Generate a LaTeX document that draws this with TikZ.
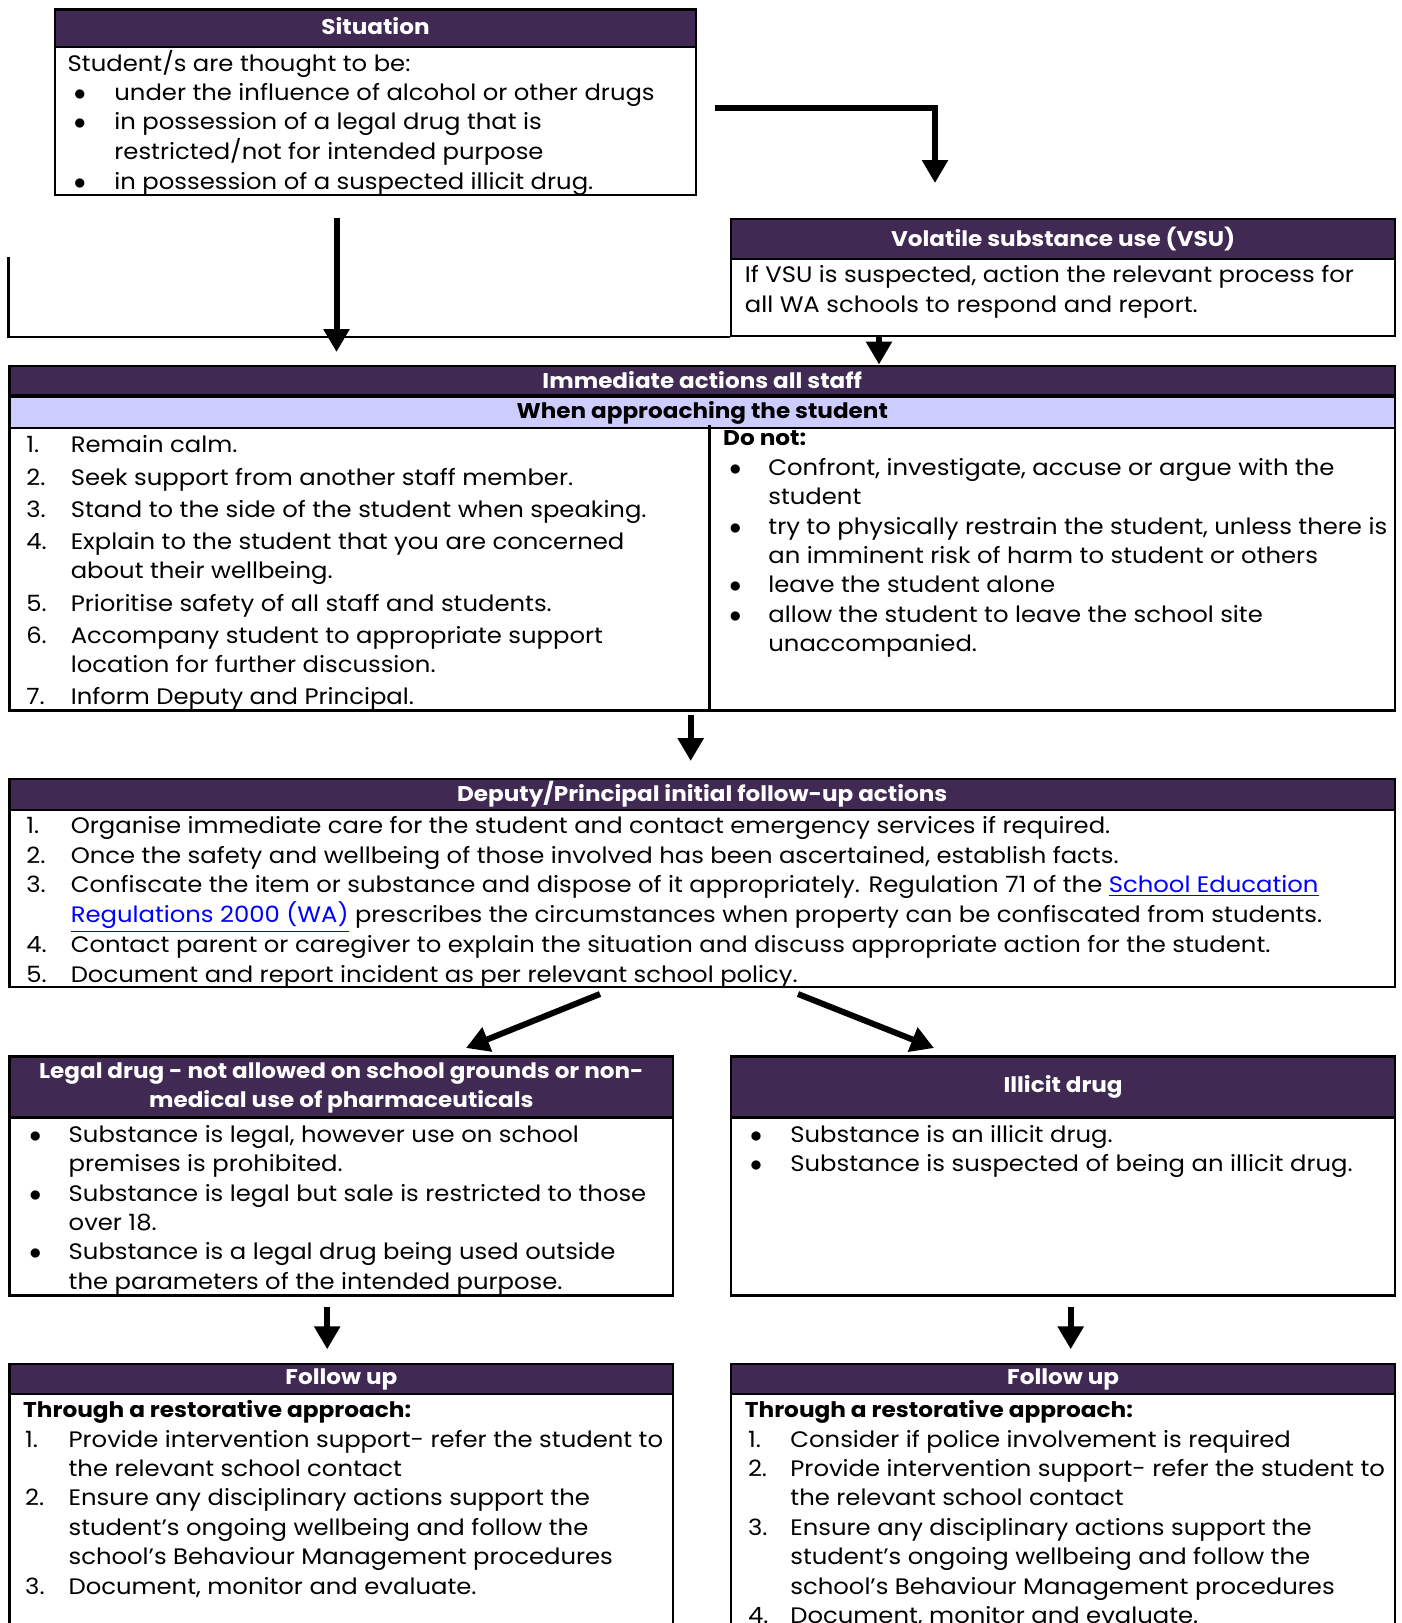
\documentclass[tikz,border=0pt]{standalone}
\usepackage{fontspec}
\setmainfont[FakeStretch=1.085]{Poppins}
\usetikzlibrary{arrows.meta,positioning}
\definecolor{hdpurple}{RGB}{64,42,84}
\definecolor{lavender}{RGB}{204,204,255}
\definecolor{linkblue}{RGB}{0,0,255}
\newcommand\txfont{\fontsize{11.2}{14.7}\selectfont}
\newcommand\hdfont{\fontsize{10.65}{14.5}\selectfont\bfseries}
\newcommand\bdfont{\fontsize{10.7}{14.7}\selectfont\bfseries}
\newcommand\bul{{\fontsize{13}{14.7}\selectfont$\bullet$}}
\tikzset{
  frame/.style={draw, line width=1.2pt, anchor=north west, inner sep=0pt},
  head/.style={frame, fill=hdpurple, text=white, font=\hdfont, align=center},
  subhead/.style={head, fill=lavender, text=black},
  txt/.style={inner sep=0pt, font=\txfont},
  bigarrow/.style={line width=3pt, -{Triangle[width=12.5pt,length=11.5pt]}},
  bracket/.style={line width=1.2pt},
}
\begin{document}
\begin{tikzpicture}[x=0.5pt,y=-0.5pt]
   \useasboundingbox (0,0) rectangle (1402,1623);
   \clip (0,0) rectangle (1402,1623);

   % situation
   \node[frame, minimum width=320.5pt, minimum height=92.65pt] (sit) at (53.8,8.3) {};
   \node[head, minimum width=320.5pt, minimum height=18.65pt] (sith) at (sit.north west) {\raisebox{2.5pt}{Situation}};
   \node[txt, below right=0.8pt and 9.85pt of sith.south west] (sitt) {%
      \begin{tabular}[t]{@{}p{20.25pt}@{}l@{}}
      \multicolumn{2}{@{\hspace{-3.1pt}}l@{}}{Student/s are thought to be:}\\
      \bul & under the influence of alcohol or other drugs\\
      \bul & in possession of a legal drug that is\\
           & restricted/not for intended purpose\\
      \bul & in possession of a suspected illicit drug.
      \end{tabular}};

   % volatile substance use
   \node[frame, minimum width=331.9pt, minimum height=58.5pt] (vsu) at (730,217.5) {};
   \node[head, minimum width=331.9pt, minimum height=20.15pt] (vsuh) at (vsu.north west) {\raisebox{1pt}{Volatile substance use (VSU)}};
   \node[txt, below right=0.8pt and 7.25pt of vsuh.south west] (vsut) {%
      \begin{tabular}[t]{@{}l@{}}
      If VSU is suspected, action the relevant process for\\
      all WA schools to respond and report.
      \end{tabular}};

   % immediate actions
   \node[frame, minimum width=692.75pt, minimum height=172.4pt] (imm) at (8.3,364.5) {};
   \node[head, minimum width=692.75pt, minimum height=14.5pt] (immh) at (imm.north west) {Immediate actions all staff};
   \node[subhead, minimum width=692.75pt, minimum height=15.55pt] (imms) at (immh.south west) {When approaching the student};
   \coordinate (mid) at (709.3,424.6);
   \draw[bracket] (mid) -- (mid |- imm.south);
   \node[txt, below right=1.3pt and 8.8pt of imms.south west] (immt) {%
      \begin{tabular}[t]{@{}p{22.25pt}@{}l@{}}
      1. & Remain calm.\\[1.4pt]
      2. & Seek support from another staff member.\\[1.4pt]
      3. & Stand to the side of the student when speaking.\\[1.4pt]
      4. & Explain to the student that you are concerned\\
         & about their wellbeing.\\[1.4pt]
      5. & Prioritise safety of all staff and students.\\[1.4pt]
      6. & Accompany student to appropriate support\\
         & location for further discussion.\\[1.4pt]
      7. & Inform Deputy and Principal.
      \end{tabular}};
   \node[txt, below right=0.2pt and 6.75pt of mid] (dont) {%
      \begin{tabular}[t]{@{\hspace{3.1pt}}p{19.5pt}@{}l@{}}
      \multicolumn{2}{@{}l@{}}{\bdfont Do not:}\\
      \bul & Confront, investigate, accuse or argue with the\\
           & student\\
      \bul & try to physically restrain the student, unless there is\\
           & an imminent risk of harm to student or others\\
      \bul & leave the student alone\\
      \bul & allow the student to leave the school site\\
           & unaccompanied.
      \end{tabular}};

   % deputy / principal
   \node[frame, minimum width=692.75pt, minimum height=104.05pt] (dep) at (8.3,777.7) {};
   \node[head, minimum width=692.75pt, minimum height=15.5pt] (deph) at (dep.north west) {Deputy/Principal initial follow-up actions};
   \node[txt, below right=0.8pt and 8.8pt of deph.south west] (dept) {%
      \begin{tabular}[t]{@{}p{22.25pt}@{}l@{}}
      1. & Organise immediate care for the student and contact emergency services if required.\\
      2. & Once the safety and wellbeing of those involved has been ascertained, establish facts.\\
      3. & Confiscate the item or substance and dispose of it appropriately. Regulation 71 of the \textcolor{linkblue}{\underline{School Education}}\\
         & \textcolor{linkblue}{\underline{Regulations 2000 (WA)}} prescribes the circumstances when property can be confiscated from students.\\
      4. & Contact parent or caregiver to explain the situation and discuss appropriate action for the student.\\
      5. & Document and report incident as per relevant school policy.
      \end{tabular}};

   % legal drug
   \node[frame, minimum width=331.85pt, minimum height=119.6pt] (leg) at (8.3,1055.2) {};
   \node[head, minimum width=331.85pt, minimum height=30.55pt] (legh) at (leg.north west) {\raisebox{-1.5pt}{\begin{tabular}{@{}c@{}}Legal drug - not allowed on school grounds or non-\\medical use of pharmaceuticals\end{tabular}}};
   \node[txt, below right=1.3pt and 10.35pt of legh.south west] (legt) {%
      \begin{tabular}[t]{@{}p{19.65pt}@{}l@{}}
      \bul & Substance is legal, however use on school\\
           & premises is prohibited.\\
      \bul & Substance is legal but sale is restricted to those\\
           & over 18.\\
      \bul & Substance is a legal drug being used outside\\
           & the parameters of the intended purpose.
      \end{tabular}};

   % illicit drug
   \node[frame, minimum width=331.9pt, minimum height=119.6pt] (ill) at (730,1055.2) {};
   \node[head, minimum width=331.9pt, minimum height=30.55pt] (illh) at (ill.north west) {\raisebox{-0.8pt}{Illicit drug}};
   \node[txt, below right=1.3pt and 9.85pt of illh.south west] (illt) {%
      \begin{tabular}[t]{@{}p{20.15pt}@{}l@{}}
      \bul & Substance is an illicit drug.\\
      \bul & Substance is suspected of being an illicit drug.
      \end{tabular}};

   % follow up, left
   \node[frame, minimum width=331.85pt, minimum height=140pt] (ful) at (8.3,1362.7) {};
   \node[head, minimum width=331.85pt, minimum height=15.05pt] (fulh) at (ful.north west) {Follow up};
   \node[txt, below right=0.75pt and 7.25pt of fulh.south west] (fult) {%
      \begin{tabular}[t]{@{\hspace{1pt}}p{21.7pt}@{}l@{}}
      \multicolumn{2}{@{}l@{}}{\bdfont Through a restorative approach:}\\
      1. & Provide intervention support- refer the student to\\
         & the relevant school contact\\
      2. & Ensure any disciplinary actions support the\\
         & student’s ongoing wellbeing and follow the\\
         & school’s Behaviour Management procedures\\
      3. & Document, monitor and evaluate.
      \end{tabular}};

   % follow up, right
   \node[frame, minimum width=331.9pt, minimum height=140pt] (fur) at (730,1362.7) {};
   \node[head, minimum width=331.9pt, minimum height=15.05pt] (furh) at (fur.north west) {Follow up};
   \node[txt, below right=0.75pt and 7.25pt of furh.south west] (furt) {%
      \begin{tabular}[t]{@{\hspace{1.55pt}}p{21.2pt}@{}l@{}}
      \multicolumn{2}{@{}l@{}}{\bdfont Through a restorative approach:}\\
      1. & Consider if police involvement is required\\
      2. & Provide intervention support- refer the student to\\
         & the relevant school contact\\
      3. & Ensure any disciplinary actions support the\\
         & student’s ongoing wellbeing and follow the\\
         & school’s Behaviour Management procedures\\
      4. & Document, monitor and evaluate.
      \end{tabular}};

   % connectors
   \coordinate (a1) at (336.5,217.5);
   \draw[bigarrow, shorten >=6.25pt] (a1) -- (a1 |- imm.north);
   \coordinate (b1) at (8.3,256.8);
   \draw[bracket] (b1) -- (b1 |- vsu.south) -- (vsu.south west);
   \coordinate (c1) at (714.5,107.7);
   \coordinate (c2) at (935,107.7);
   \draw[bigarrow, shorten >=17.25pt] (c1) -- (c2) -- (c2 |- vsu.north);
   \coordinate (d1) at (879,334.5);
   \draw[bigarrow] (d1) -- (d1 |- imm.north);
   \coordinate (e1) at (690.7,714.5);
   \draw[bigarrow, shorten >=8.35pt] (e1) -- (e1 |- dep.north);
   \coordinate (f1) at (600,994);
   \coordinate (f2) at (466,1048);
   \draw[bigarrow] (f1) -- (f2);
   \coordinate (g1) at (798,994);
   \coordinate (g2) at (934,1048);
   \draw[bigarrow] (g1) -- (g2);
   \coordinate (h1) at (327.2,1306.8);
   \draw[bigarrow, shorten >=6.7pt] (h1) -- (h1 |- ful.north);
   \coordinate (k1) at (1070.7,1306.8);
   \draw[bigarrow, shorten >=6.7pt] (k1) -- (k1 |- fur.north);
\end{tikzpicture}
\end{document}
